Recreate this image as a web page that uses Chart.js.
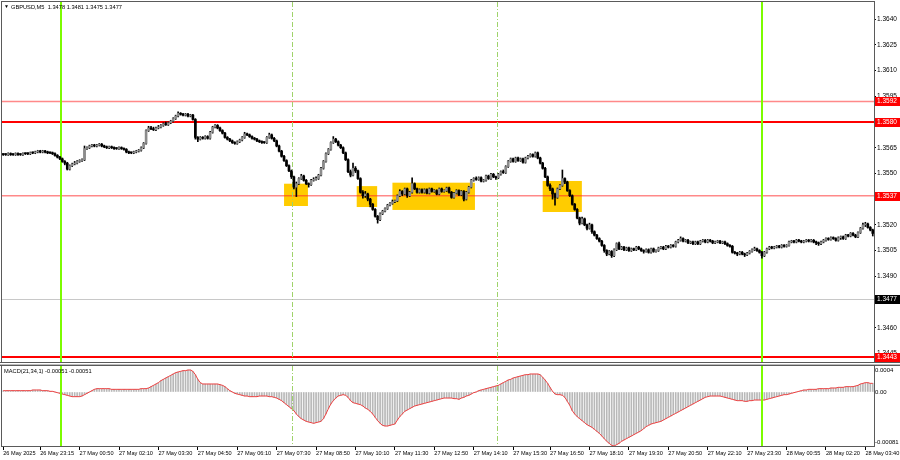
<!DOCTYPE html>
<html>
<head>
<meta charset="utf-8">
<script src="https://cdn.jsdelivr.net/npm/chart.js@4.4.1/dist/chart.umd.min.js"></script>
<style>
  html, body { margin: 0; padding: 0; background: #fff; }
  #wrap { position: relative; width: 900px; height: 460px; overflow: hidden; }
  #boxPrecio { position: absolute; left: 0; top: 0; width: 900px; height: 364px; }
  #boxMacd { position: absolute; left: 0; top: 364px; width: 900px; height: 96px; }
</style>
</head>
<body>
<div id="wrap">
  <div id="boxPrecio"><canvas id="graficoPrecio"></canvas></div>
  <div id="boxMacd"><canvas id="graficoMacd"></canvas></div>
</div>
<script>
// precios en pips por encima de 1.3500 (velas M5)
const base = 1.3500;
const apertura = [
  61,61,61,61.5,61,61,61.5,61,61,61.5, 61.5,61.5,62,62,62.5,63,62.5,63,62.5,62,
  62,61.5,60.5,59.5,58.5,57,56,52.5,54.5,55.5, 56,57,57.5,58,64.5,65,66,66.5,66,66.5,
  67,66,65.5,65,65.5,65,64.5,64.5,65,64.5, 64,62.5,62,62,62.5,63,63.5,65,67.5,75,
  76.5,76,75.5,76.5,77,78,79,78.5,79.5,80.5, 82,83.5,85,84.5,84,84.5,83.5,84,81.5,71,
  70,71,70.5,71.5,70.5,74,77,78,76.5,75, 73.5,71,70,69,68,67.5,68.5,69.5,71,73,
  72.5,71.5,70.5,70,69,68.5,68,68,71,72.5, 70.5,69,66,63,60,57.5,54.5,51.5,48,42,
  44,47,48.5,46,44,43.5,46,46.5,47,49, 53,57,61.5,64,68,70,68.5,66.5,65,62,
  58,51,49,53,51.5,47,39,37,38,35, 32,29,25,23,26.5,28,29.5,31.5,32.5,33.5,
  34,37,39.5,38,41,37,39,44,41,39, 40.5,39,40.5,38.5,41,39.5,40,38,41,39.5,
  40,41.5,39,36,38.5,40,37.5,39.5,35,39, 42,46,47,46.5,47.5,45.5,46,48.5,47,49.5,
  48,47.5,49.5,51,50.5,54,57,58.5,57,59, 57.5,58.5,56.5,59,60,61,60,62,59,56,
  53,48,43,41,38,36,41,43,47,45, 40,37,32,29,24,21,23.5,20,18,20,
  16,14,12,10.5,8,5,3,4.5,2,5.5, 9,6,7,5.5,6.5,5,6,5.5,7,6,
  5,4.5,5.5,4,6,4.5,5,6.5,7,6, 7.5,7,8,7.5,10,11,12,10.5,11,9.5,
  10,9,10,9,10.5,11,10,11,10.5,9.5, 10,10.5,9.5,10,9,8,7.5,4,3.5,3,
  4,3,2.5,3.5,4.5,5.5,6,5,4,2, 4,6,7,6.5,7,7.5,7,8,7.5,8,
  10,10.5,10,11,10.5,10,10.5,11,10.5,11, 10,9.5,9,10,11,12,11.5,12.5,12,11,
  12.5,13,12,14,13.5,15,14,13,15.5,18, 20,20.5,18.5,17
];
const maximo = [
  61.5,61.5,62,62,61.5,62,62,61.5,62,62, 62,62.5,62.5,63,63.5,63.5,63.5,63.5,63,62.5,
  62.5,62,61,60,59,57.5,56.5,55,56,57, 57.5,58,58.5,66,65.5,66.5,67,67,67,67.5,
  67.5,66.5,66,66,66,65.5,65,65.5,65.5,65, 64.5,63,62.5,63,63.5,64,65.5,68,75.5,77.5,
  77.5,77,77,78,78.5,79.5,80,80,81,82.5, 84,86,85.5,85,85,85,84.5,84.5,82,71.5,
  71.5,71.5,72,72,74.5,77.5,78.5,78.5,77,75.5, 74,71.5,70.5,69.5,68.5,69,70,71.5,74,73.5,
  73,72,71,70.5,69.5,69,68.5,71.5,73.5,73, 71,69.5,66.5,63.5,60.5,58,55,52,48.5,45,
  47.5,49.5,49,46.5,44.5,46.5,47.5,48,49.5,53.5, 57.5,62,64.5,68.5,71.5,70.5,69,67,65.5,62.5,
  58.5,52,56,54,52,47.5,40,39.5,38.5,35.5, 32.5,29.5,25.5,27,28.5,30,32,33,34.5,34.5,
  37.5,40.5,40,41.5,41.5,39.5,47.5,44.5,41.5,41, 41,41,41,41.5,41.5,40.5,40.5,41.5,41.5,40.5,
  42,42,39.5,39,40.5,40.5,40,40,39.5,42.5, 46.5,47.5,48,48,48,46.5,49,49,50,50,
  48.5,50,51.5,52,54.5,57.5,59,59,59.5,59.5, 59,59,59.5,60.5,61.5,61.5,62.5,62.5,59.5,56.5,
  53.5,48.5,44,41.5,38.5,41.5,43.5,52,47.5,45.5, 40.5,37.5,32.5,29.5,24.5,24.5,24,20.5,21,20.5,
  16.5,14.5,12.5,11,8.5,5.5,5,5,6,9.5, 10,7.5,7.5,7,7,6.5,6.5,7.5,7.5,6.5,
  5.5,6,6,6.5,6.5,5.5,7,7.5,7.5,8, 8,8.5,8.5,10.5,11.5,13,12.5,11.5,11.5,10.5,
  10.5,10.5,10.5,11,11.5,11.5,11.5,11.5,11,10.5, 11,11,10.5,10.5,9.5,8.5,8,4.5,4,4.5,
  4.5,3.5,4,5,6,7,6.5,5.5,4.5,4.5, 6.5,7.5,7.5,7.5,8,8,8.5,8.5,8.5,10.5,
  11,11,11.5,11.5,11,11,11.5,11.5,11.5,11.5, 10.5,10,10.5,11.5,12.5,12.5,13,13,12.5,13,
  13.5,13.5,14.5,14.5,15.5,15.5,14.5,16,18.5,21, 21.5,21,19,17.5
];
const minimo = [
  60.5,60.5,60.5,60.5,60.5,60.5,60.5,60.5,60.5,61, 61,61,61.5,61.5,62,62,62,62,61.5,61.5,
  61,60,59,58,56.5,55,52,52,54,55, 55.5,56.5,57,57.5,64,64.5,65.5,65.5,65.5,66,
  65.5,65,64.5,64.5,64.5,64,64,64,64,63.5, 62,61.5,61.5,61.5,62,62.5,63,64.5,67,74.5,
  75.5,75,75,76,76.5,77.5,78,78,79,80, 81.5,83,84,83.5,83.5,83,83,81,70,68.5,
  69.5,70,70,70,70,73.5,76.5,76,74.5,73, 70.5,69.5,68.5,67.5,67,67,68,69,70.5,72,
  71,70,69.5,68.5,68,67.5,67.5,67.5,70.5,70, 68.5,65.5,62.5,59.5,57,54,51,47,41,36.5,
  43.5,46.5,45.5,43.5,42,43,45.5,46,46.5,48.5, 52.5,56.5,61,63.5,67.5,68,66,64.5,61.5,57.5,
  50.5,48,48.5,50.5,46.5,38.5,35.5,36,34,30.5, 28.5,24.5,21,22.5,26,27.5,29,31,32,33,
  33.5,36.5,37,37.5,36,36.5,38.5,40.5,38.5,38.5, 38.5,38.5,38,38,39,39,37.5,37.5,39,39,
  39.5,38.5,35.5,35.5,38,37,37,34,34.5,38.5, 41.5,45.5,46,46,45,45,45.5,46.5,46.5,47.5,
  46.5,47,49,50,50,53.5,56.5,56.5,56.5,57, 57,56,56,58.5,59.5,59.5,59.5,58.5,55.5,52.5,
  47.5,42.5,40,35,31.5,35.5,40.5,42.5,44,39.5, 36.5,31.5,28.5,23.5,20,20.5,19.5,17,17.5,15,
  13.5,11.5,10,7.5,4,2,2.5,1,1.5,5, 5.5,5.5,5,5,4.5,4.5,5,5,5.5,4.5,
  3.5,4,3.5,3.5,4,4,4.5,6,5.5,5.5, 6.5,6.5,7,7,9.5,10.5,10,10,9,9,
  8.5,8.5,8.5,8.5,10,9.5,9.5,10,9,9, 9.5,9,9,8.5,7.5,7,3.5,3,2,2.5,
  2.5,1.5,2,3,4,5,4.5,3.5,0.5,1.5, 3.5,5.5,6,6,6.5,6.5,6.5,7,7,7.5,
  9.5,9.5,9.5,10,9.5,9.5,10,10,10,9.5, 8.5,8,8.5,9.5,10.5,11,11,11.5,10.5,10.5,
  11.5,11.5,11.5,13,13,13.5,12.5,12.5,15,17.5, 19,18,16.5,13.5
];
const cierre = [
  61,61,61.5,61,61,61.5,61,61,61.5,61.5, 61.5,62,62,62.5,63,62.5,63,62.5,62,62,
  61.5,60.5,59.5,58.5,57,56,52.5,54.5,55.5,56, 57,57.5,58,64.5,65,66,66.5,66,66.5,67,
  66,65.5,65,65.5,65,64.5,64.5,65,64.5,64, 62.5,62,62,62.5,63,63.5,65,67.5,75,76.5,
  76,75.5,76.5,77,78,79,78.5,79.5,80.5,82, 83.5,85,84.5,84,84.5,83.5,84,81.5,71,70,
  71,70.5,71.5,70.5,74,77,78,76.5,75,73.5, 71,70,69,68,67.5,68.5,69.5,71,73,72.5,
  71.5,70.5,70,69,68.5,68,68,71,72.5,70.5, 69,66,63,60,57.5,54.5,51.5,48,42,44,
  47,48.5,46,44,43.5,46,46.5,47,49,53, 57,61.5,64,68,70,68.5,66.5,65,62,58,
  51,49,53,51.5,47,39,37,38,35,32, 29,25,23,26.5,28,29.5,31.5,32.5,33.5,34,
  37,39.5,38,41,37,39,44,41,39,40.5, 39,40.5,38.5,41,39.5,40,38,41,39.5,40,
  41.5,39,36,38.5,40,37.5,39.5,35,39,42, 46,47,46.5,47.5,45.5,46,48.5,47,49.5,48,
  47.5,49.5,51,50.5,54,57,58.5,57,59,57.5, 58.5,56.5,59,60,61,60,62,59,56,53,
  48,43,41,38,36,41,43,47,45,40, 37,32,29,24,21,23.5,20,18,20,16,
  14,12,10.5,8,5,3,4.5,2,5.5,9, 6,7,5.5,6.5,5,6,5.5,7,6,5,
  4.5,5.5,4,6,4.5,5,6.5,7,6,7.5, 7,8,7.5,10,11,12,10.5,11,9.5,10,
  9,10,9,10.5,11,10,11,10.5,9.5,10, 10.5,9.5,10,9,8,7.5,4,3.5,3,4,
  3,2.5,3.5,4.5,5.5,6,5,4,2,4, 6,7,6.5,7,7.5,7,8,7.5,8,10,
  10.5,10,11,10.5,10,10.5,11,10.5,11,10, 9.5,9,10,11,12,11.5,12.5,12,11,12.5,
  13,12,14,13.5,15,14,13,15.5,18,20, 20.5,18.5,17,15
];

// MACD(21,34,1) en unidades de 0.00001
const macd = [
  2,2,2,2,2,2,2,2,2,2, 2,2,3,3,3,3,2,2,2,1, 1,0,-1,-2,-3,-4,-5,-6,-7,-7,
  -7,-7,-6,-4,-2,0,2,4,5,5, 5,5,5,5,4,4,4,4,4,4, 4,4,4,4,4,4,5,5,5,6,
  8,10,12,14,17,19,21,23,25,27, 29,30,31,32,32,33,33,31,26,19, 14,12,12,12,12,12,12,12,11,10,
  8,5,2,0,-2,-3,-4,-5,-6,-6, -7,-7,-7,-7,-6,-6,-6,-6,-7,-7, -8,-9,-11,-13,-16,-19,-22,-25,-28,-33,
  -37,-40,-42,-44,-45,-46,-47,-46,-45,-44, -40,-33,-25,-18,-13,-9,-6,-5,-4,-5, -8,-13,-16,-17,-18,-19,-21,-24,-26,-29,
  -33,-38,-43,-47,-50,-51,-51,-50,-49,-48, -42,-37,-33,-29,-27,-25,-23,-21,-20,-19, -18,-17,-16,-15,-14,-13,-12,-11,-10,-9,
  -9,-9,-9,-10,-10,-11,-9,-8,-6,-5, -3,-1,0,2,3,4,5,6,7,8, 9,10,12,14,16,18,19,21,22,23,
  24,25,26,26,27,27,27,27,26,22, 18,13,7,1,-3,-4,-4,-5,-8,-14, -20,-28,-33,-37,-40,-43,-46,-49,-51,-53,
  -56,-59,-62,-66,-70,-74,-77,-80,-81,-79, -77,-74,-72,-70,-68,-66,-64,-62,-60,-58, -55,-52,-50,-48,-47,-46,-45,-44,-42,-40,
  -38,-36,-34,-32,-30,-28,-26,-24,-22,-20, -18,-16,-14,-12,-10,-8,-7,-6,-6,-6, -6,-6,-7,-8,-9,-10,-11,-12,-13,-13,
  -13,-14,-14,-13,-13,-12,-12,-12,-12,-12, -11,-10,-9,-8,-7,-6,-5,-4,-4,-3, -2,-1,0,1,2,3,3,4,4,4,
  4,5,5,5,5,5,6,6,6,7, 7,7,8,8,8,8,9,10,12,13, 14,14,13,13
];

// eje de tiempo
const posEtiquetas = [0,15,31,47,63,79,95,111,127,143,159,175,191,207,222,238,254,270,286,302,318,334,350];
const etiquetasTiempo = ['26 May 2025','26 May 23:15','27 May 00:50','27 May 02:10','27 May 03:30','27 May 04:50',
  '27 May 06:10','27 May 07:30','27 May 08:50','27 May 10:10','27 May 11:30','27 May 12:50','27 May 14:10',
  '27 May 15:30','27 May 16:50','27 May 18:10','27 May 19:30','27 May 20:50','27 May 22:10','27 May 23:30',
  '28 May 00:55','28 May 02:20','28 May 03:40'];

// eje de precios y MACD
const nivelesEje = [1.3445,1.3460,1.3475,1.3490,1.3505,1.3520,1.3535,1.3550,1.3565,1.3580,1.3595,1.3610,1.3625,1.3640];
const valoresEjeMacd = [0.00033, 0, -0.00075];
const textosEjeMacd = ['0.0004', '0.00', '-0.00081'];

// niveles horizontales, marcas verticales y zonas
const nivelesFuertes = [1.3580, 1.3443];
const nivelesDebiles = [1.3592, 1.3537];
const precioActual = 1.3477;
const marcasSesion = [23.3, 308.1];
const separadores = [117.1, 200.6];
const zonaDesde = [114, 143.5, 158, 219];
const zonaHasta = [123.7, 151.8, 191.5, 234.9];
const zonaAlta = [44, 42.6, 44.6, 45.6];
const zonaBaja = [31, 30.4, 28.7, 27.5];

const velas = cierre.map((_, i) => i);
const aPrecio = p => base + p / 10000;
const familia = "'Liberation Sans', Arial, sans-serif";
const fuenteEje = { family: familia, size: 6.5 };
const fuenteTiempo = { family: familia, size: 5.6 };

function lineasVerticales(chart) {
    const { ctx, chartArea: a, scales: { x } } = chart;
    ctx.save();
    ctx.strokeStyle = '#9fd36a';
    ctx.lineWidth = 1;
    ctx.setLineDash([5, 2, 1, 2]);
    separadores.forEach(m => {
        const px = Math.round(x.getPixelForValue(m)) + 0.5;
        ctx.beginPath(); ctx.moveTo(px, a.top); ctx.lineTo(px, a.bottom); ctx.stroke();
    });
    ctx.setLineDash([]);
    ctx.strokeStyle = '#7cfc00';
    ctx.lineWidth = 2;
    marcasSesion.forEach(m => {
        const px = Math.round(x.getPixelForValue(m));
        ctx.beginPath(); ctx.moveTo(px, a.top); ctx.lineTo(px, a.bottom); ctx.stroke();
    });
    ctx.restore();
}

function marco(chart) {
    const { ctx, chartArea: a } = chart;
    ctx.save();
    ctx.strokeStyle = '#5a5a5a';
    ctx.lineWidth = 1;
    ctx.strokeRect(a.left - 0.5, a.top - 0.5, a.right - a.left + 1, a.bottom - a.top + 1);
    ctx.restore();
}

function etiquetaNivel(ctx, a, y, texto, fondo) {
    ctx.fillStyle = fondo;
    ctx.fillRect(a.right + 1, Math.round(y) - 4, 26, 9);
    ctx.fillStyle = '#fff';
    ctx.fillText(texto, a.right + 3, Math.round(y) + 0.5);
}

const capasPrecio = {
    id: 'capasPrecio',
    beforeDatasetsDraw(chart) {
        const { ctx, chartArea: a, scales: { x, y } } = chart;
        ctx.save();
        // zonas amarillas
        ctx.fillStyle = '#ffcc00';
        zonaDesde.forEach((d, k) => {
            const x1 = x.getPixelForValue(d), x2 = x.getPixelForValue(zonaHasta[k]);
            const y1 = y.getPixelForValue(aPrecio(zonaAlta[k])), y2 = y.getPixelForValue(aPrecio(zonaBaja[k]));
            ctx.fillRect(x1, y1, x2 - x1, y2 - y1);
        });
        // precio actual
        ctx.strokeStyle = '#c8c8c8';
        ctx.lineWidth = 1;
        let py = Math.round(y.getPixelForValue(precioActual)) + 0.5;
        ctx.beginPath(); ctx.moveTo(a.left, py); ctx.lineTo(a.right, py); ctx.stroke();
        // niveles
        ctx.strokeStyle = 'rgba(255, 40, 40, 0.55)';
        ctx.lineWidth = 1.5;
        nivelesDebiles.forEach(v => {
            const yy = y.getPixelForValue(v);
            ctx.beginPath(); ctx.moveTo(a.left, yy); ctx.lineTo(a.right, yy); ctx.stroke();
        });
        ctx.strokeStyle = '#ff0000';
        ctx.lineWidth = 2;
        nivelesFuertes.forEach(v => {
            const yy = Math.round(y.getPixelForValue(v));
            ctx.beginPath(); ctx.moveTo(a.left, yy); ctx.lineTo(a.right, yy); ctx.stroke();
        });
        ctx.restore();
        lineasVerticales(chart);
    },
    afterDraw(chart) {
        const { ctx, chartArea: a, scales: { y } } = chart;
        marco(chart);
        ctx.save();
        ctx.font = '6.5px ' + familia;
        ctx.textBaseline = 'middle';
        ctx.textAlign = 'left';
        nivelesDebiles.concat(nivelesFuertes).forEach(v => {
            etiquetaNivel(ctx, a, y.getPixelForValue(v), v.toFixed(4), '#ff0000');
        });
        etiquetaNivel(ctx, a, y.getPixelForValue(precioActual), precioActual.toFixed(4), '#000');
        // cabecera
        ctx.fillStyle = '#000';
        ctx.font = '5px ' + familia;
        ctx.fillText('▼', 4, 7);
        ctx.font = '5.7px ' + familia;
        ctx.fillText('GBPUSD,M5  1.3478 1.3481 1.3475 1.3477', 11, 7.5);
        // separador inferior
        ctx.fillStyle = '#5a5a5a';
        ctx.fillRect(0, a.bottom, 900, 1);
        ctx.restore();
    }
};

const capasMacd = {
    id: 'capasMacd',
    afterDatasetsDraw(chart) {
        lineasVerticales(chart);
    },
    afterDraw(chart) {
        const { ctx, chartArea: a } = chart;
        marco(chart);
        ctx.save();
        ctx.fillStyle = '#bdbdbd';
        ctx.fillRect(0, 0, 900, 1);
        ctx.fillStyle = '#5a5a5a';
        ctx.fillRect(0, a.top - 1, 900, 1);
        ctx.fillStyle = '#000';
        ctx.font = '5.7px ' + familia;
        ctx.textBaseline = 'middle';
        ctx.fillText('MACD(21,34,1) -0.00051 -0.00051', 4, 7);
        ctx.restore();
    }
};

const ctxPrecio = document.getElementById('graficoPrecio').getContext('2d');
new Chart(ctxPrecio, {
    type: 'bar',
    data: {
        labels: velas,
        datasets: [{
            label: 'Mechas',
            data: maximo.map((h, i) => [aPrecio(minimo[i]), aPrecio(h)]),
            backgroundColor: '#000',
            barThickness: 1,
            grouped: false,
            order: 2
        }, {
            label: 'Cuerpos',
            data: apertura.map((o, i) => [aPrecio(o), aPrecio(cierre[i])]),
            backgroundColor: apertura.map((o, i) => cierre[i] > o ? '#8c8c8c' : '#000'),
            barThickness: 2,
            minBarLength: 1,
            grouped: false,
            order: 1
        }]
    },
    options: {
        responsive: true,
        maintainAspectRatio: false,
        animation: false,
        devicePixelRatio: 1,
        layout: { padding: { top: 2, left: 2, right: 0, bottom: 2 } },
        plugins: { legend: { display: false }, tooltip: { enabled: false } },
        scales: {
            x: { display: false, offset: true },
            y: {
                position: 'right',
                min: 1.3440,
                max: 1.3650,
                afterBuildTicks: s => { s.ticks = nivelesEje.map(v => ({ value: v })); },
                afterFit: s => { s.width = 26; s.paddingTop = 0; s.paddingBottom = 0; },
                grid: { drawOnChartArea: false, tickLength: 2, color: '#000' },
                border: { display: false },
                ticks: { padding: 1, font: fuenteEje, color: '#000', callback: v => v.toFixed(4) }
            }
        }
    },
    plugins: [capasPrecio]
});

const ctxMacd = document.getElementById('graficoMacd').getContext('2d');
const macdValores = macd.map(v => v / 100000);
new Chart(ctxMacd, {
    type: 'bar',
    data: {
        labels: velas,
        datasets: [{
            type: 'line',
            label: 'Señal',
            data: macdValores,
            borderColor: '#f04040',
            borderWidth: 1,
            pointRadius: 0,
            tension: 0,
            order: 1
        }, {
            label: 'MACD',
            data: macdValores,
            backgroundColor: '#b8b8b8',
            barThickness: 1,
            order: 2
        }]
    },
    options: {
        responsive: true,
        maintainAspectRatio: false,
        animation: false,
        devicePixelRatio: 1,
        layout: { padding: { top: 2, left: 2, right: 0, bottom: 0 } },
        plugins: { legend: { display: false }, tooltip: { enabled: false } },
        scales: {
            x: {
                offset: true,
                afterBuildTicks: s => { s.ticks = posEtiquetas.map(v => ({ value: v })); },
                afterFit: s => { s.height = 14; s.paddingLeft = 0; s.paddingRight = 0; },
                grid: { drawOnChartArea: false, offset: false, tickLength: 4, color: '#000' },
                border: { display: false },
                ticks: {
                    autoSkip: false, maxRotation: 0, minRotation: 0, align: 'start', padding: 0,
                    font: fuenteTiempo, color: '#000',
                    callback: (v, i) => etiquetasTiempo[i]
                }
            },
            y: {
                position: 'right',
                min: -0.00081,
                max: 0.00039,
                afterBuildTicks: s => { s.ticks = valoresEjeMacd.map(v => ({ value: v })); },
                afterFit: s => { s.width = 26; s.paddingTop = 0; s.paddingBottom = 0; },
                grid: { drawOnChartArea: false, tickLength: 1, color: '#000' },
                border: { display: false },
                ticks: { padding: 0, font: { family: familia, size: 6 }, color: '#000', callback: (v, i) => textosEjeMacd[i] }
            }
        }
    },
    plugins: [capasMacd]
});
</script>
</body>
</html>
